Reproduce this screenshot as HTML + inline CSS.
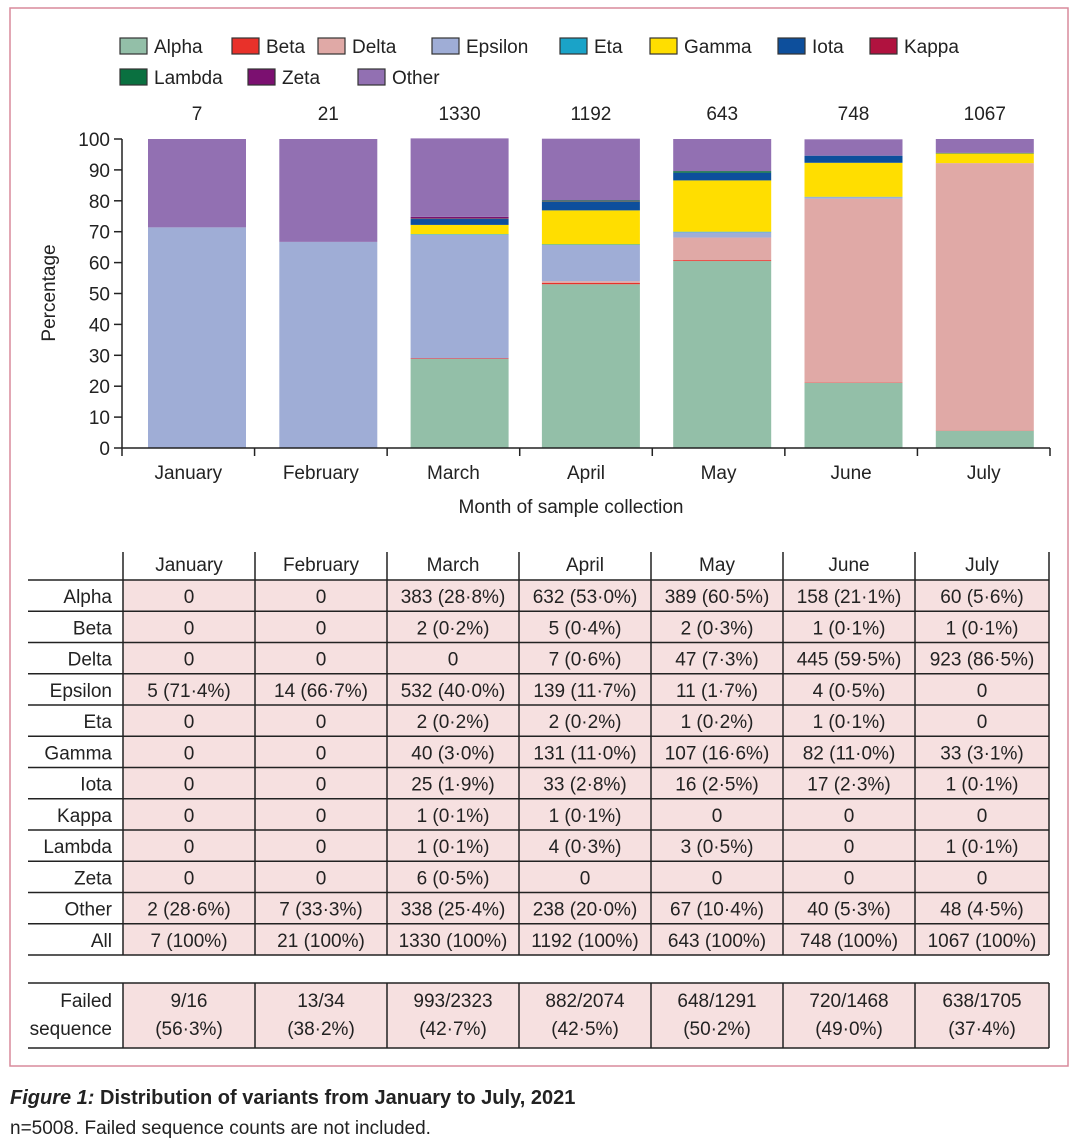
<!DOCTYPE html>
<html><head><meta charset="utf-8"><style>
body{margin:0;background:#fff;font-family:"Liberation Sans",sans-serif;color:#222}
svg text{font-family:"Liberation Sans",sans-serif;fill:#222}
</style></head><body>
<svg id="s" width="1080" height="1143" viewBox="0 0 1080 1143" xmlns="http://www.w3.org/2000/svg">
<rect x="10" y="8" width="1058" height="1058" fill="none" stroke="#d98a9c" stroke-width="1.5"/>
<g id="chart"></g><g id="table"></g>
<text x="10" y="1104" font-size="20" font-weight="bold"><tspan font-style="italic">Figure 1:</tspan> Distribution of variants from January to July, 2021</text>
<text x="10" y="1134" font-size="19">n=5008. Failed sequence counts are not included.</text>
</svg>
<script>
const months=["January","February","March","April","May","June","July"];
const totals=[7,21,1330,1192,643,748,1067];
const variants=["Alpha","Beta","Delta","Epsilon","Eta","Gamma","Iota","Kappa","Lambda","Zeta","Other"];
const colors=["#93bfa8","#e8312a","#e0a9a6","#9fadd6","#1aa3c8","#ffde00","#0d4f9c","#b0123f","#0a7040","#7b1070","#9270b2"];
const alpha=[0,0,28.8,53.0,60.5,21.1,5.6];
const beta=[0,0,0.2,0.4,0.3,0.1,0.1];
const delta=[0,0,0,0.6,7.3,59.5,86.5];
const epsilon=[71.4,66.7,40.0,11.7,1.7,0.5,0];
const eta=[0,0,0.2,0.2,0.2,0.1,0];
const gamma=[0,0,3.0,11.0,16.6,11.0,3.1];
const iota=[0,0,1.9,2.8,2.5,2.3,0.1];
const kappa=[0,0,0.1,0.1,0,0,0];
const lambda=[0,0,0.1,0.3,0.5,0,0.1];
const zeta=[0,0,0.5,0,0,0,0];
const other=[28.6,33.3,25.4,20.0,10.4,5.3,4.5];
const series=[alpha,beta,delta,epsilon,eta,gamma,iota,kappa,lambda,zeta,other];
const yTicks=[0,10,20,30,40,50,60,70,80,90,100];
const tableRows=[
["Alpha","0","0","383 (28·8%)","632 (53·0%)","389 (60·5%)","158 (21·1%)","60 (5·6%)"],
["Beta","0","0","2 (0·2%)","5 (0·4%)","2 (0·3%)","1 (0·1%)","1 (0·1%)"],
["Delta","0","0","0","7 (0·6%)","47 (7·3%)","445 (59·5%)","923 (86·5%)"],
["Epsilon","5 (71·4%)","14 (66·7%)","532 (40·0%)","139 (11·7%)","11 (1·7%)","4 (0·5%)","0"],
["Eta","0","0","2 (0·2%)","2 (0·2%)","1 (0·2%)","1 (0·1%)","0"],
["Gamma","0","0","40 (3·0%)","131 (11·0%)","107 (16·6%)","82 (11·0%)","33 (3·1%)"],
["Iota","0","0","25 (1·9%)","33 (2·8%)","16 (2·5%)","17 (2·3%)","1 (0·1%)"],
["Kappa","0","0","1 (0·1%)","1 (0·1%)","0","0","0"],
["Lambda","0","0","1 (0·1%)","4 (0·3%)","3 (0·5%)","0","1 (0·1%)"],
["Zeta","0","0","6 (0·5%)","0","0","0","0"],
["Other","2 (28·6%)","7 (33·3%)","338 (25·4%)","238 (20·0%)","67 (10·4%)","40 (5·3%)","48 (4·5%)"],
["All","7 (100%)","21 (100%)","1330 (100%)","1192 (100%)","643 (100%)","748 (100%)","1067 (100%)"]];
const failed=[["9/16","(56·3%)"],["13/34","(38·2%)"],["993/2323","(42·7%)"],["882/2074","(42·5%)"],["648/1291","(50·2%)"],["720/1468","(49·0%)"],["638/1705","(37·4%)"]];

const NS="http://www.w3.org/2000/svg";
function mk(p,t,a,txt){const e=document.createElementNS(NS,t);for(const k in a)e.setAttribute(k,a[k]);if(txt!==undefined)e.textContent=txt;p.appendChild(e);return e;}
const y0=448,y1=139,ax=122;
const y=v=>y0-(v/100)*(y0-y1);
const bw=98,pitch=131.3,bx0=148;
const x=i=>bx0+i*pitch;
const C=document.getElementById('chart');
// legend
const legPos=[[120,46],[232,46],[318,46],[432,46],[560,46],[650,46],[778,46],[870,46],[120,77],[248,77],[358,77]];
variants.forEach((v,i)=>{const g=mk(C,'g',{});


const [lx,ly]=legPos[i];
mk(g,'rect',{x:lx,y:ly-8,width:27,height:16,fill:colors[i],stroke:'#333','stroke-width':1.2});
mk(g,'text',{x:lx+34,y:ly+7,'font-size':19},v);});
// counts
totals.forEach((t,i)=>{const e=mk(C,'text',{x:x(i)+bw/2,y:120,'font-size':19,'text-anchor':'middle'},t);

});
// bars
months.forEach((m,i)=>{let cum=0;series.forEach((s,j)=>{const v=s[i];if(v>0){const r=mk(C,'rect',{x:x(i),y:y(cum+v),width:bw,height:y(cum)-y(cum+v),fill:colors[j]});

}cum+=v;});});
// axes
const ya=mk(C,'line',{x1:ax,y1:y1,x2:ax,y2:y0,stroke:'#222','stroke-width':1.5});

yTicks.forEach(t=>{mk(C,'line',{x1:ax-8,x2:ax,y1:y(t),y2:y(t),stroke:'#222','stroke-width':1.5});
const e=mk(C,'text',{x:ax-12,y:y(t)+7,'font-size':19,'text-anchor':'end'},t);
});
const xa=mk(C,'line',{x1:ax,y1:y0,x2:1050,y2:y0,stroke:'#222','stroke-width':1.5});

for(let i=0;i<=7;i++){const tx=ax+i*(1050-ax)/7;mk(C,'line',{x1:tx,x2:tx,y1:y0,y2:y0+8,stroke:'#222','stroke-width':1.5});}
months.forEach((m,i)=>{const e=mk(C,'text',{x:ax+(i+0.5)*(1050-ax)/7,y:479,'font-size':19,'text-anchor':'middle'},m);
});
const xt=mk(C,'text',{x:571,y:513,'font-size':19,'text-anchor':'middle'},'Month of sample collection');

const yt=mk(C,'text',{x:0,y:0,'font-size':19,'text-anchor':'middle',transform:'translate(55,293) rotate(-90)'},'Percentage');

// table
const T=document.getElementById('table');
const cols=[28,123,255,387,519,651,783,915,1049];
const rt=580,rh=31.25;
mk(T,'rect',{x:123,y:rt,width:926,height:rh*12,fill:'#f6e0e0'});
mk(T,'rect',{x:123,y:983,width:926,height:65,fill:'#f6e0e0'});
months.forEach((m,i)=>{const e=mk(T,'text',{x:(cols[i+1]+cols[i+2])/2,y:571,'font-size':19,'text-anchor':'middle'},m);
});
tableRows.forEach((r,ri)=>{const ty=rt+ri*rh+23;r.forEach((c,ci)=>{const e=mk(T,'text',{x:ci==0?112:(cols[ci]+cols[ci+1])/2,y:ty,'font-size':19,'text-anchor':ci==0?'end':'middle'},c);
});});
for(let k=0;k<=12;k++)mk(T,'line',{x1:28,x2:1049,y1:rt+k*rh,y2:rt+k*rh,stroke:'#222','stroke-width':1.5});
for(let i=1;i<cols.length;i++)mk(T,'line',{x1:cols[i],x2:cols[i],y1:552,y2:rt+12*rh,stroke:'#222','stroke-width':1.5});
mk(T,'line',{x1:28,x2:1049,y1:983,y2:983,stroke:'#222','stroke-width':1.5});
mk(T,'line',{x1:28,x2:1049,y1:1048,y2:1048,stroke:'#222','stroke-width':1.5});
for(let i=1;i<cols.length;i++)mk(T,'line',{x1:cols[i],x2:cols[i],y1:983,y2:1048,stroke:'#222','stroke-width':1.5});
mk(T,'text',{x:112,y:1007,'font-size':19,'text-anchor':'end'},'Failed');
mk(T,'text',{x:112,y:1035,'font-size':19,'text-anchor':'end'},'sequence');
failed.forEach((f,i)=>{const cx=(cols[i+1]+cols[i+2])/2;
const a=mk(T,'text',{x:cx,y:1007,'font-size':19,'text-anchor':'middle'},f[0]);

const b=mk(T,'text',{x:cx,y:1035,'font-size':19,'text-anchor':'middle'},f[1]);
});
</script>
</body></html>
